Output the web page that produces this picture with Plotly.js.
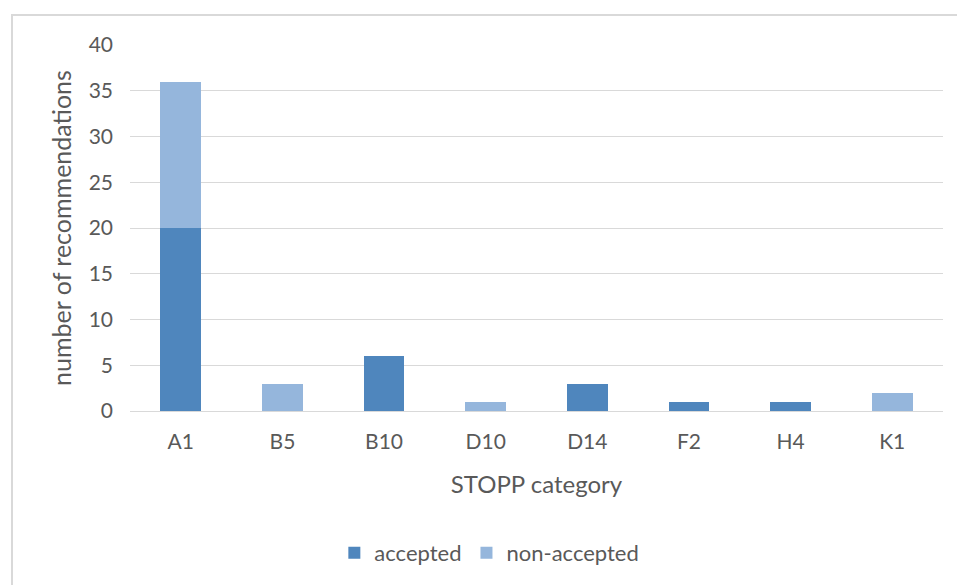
<!DOCTYPE html>
<html>
<head>
<meta charset="utf-8">
<script src="https://cdn.plot.ly/plotly-3.0.1.min.js"></script>
<style>
html,body{margin:0;padding:0;background:#fff;overflow:hidden;}
#frame{position:absolute;left:11px;top:14px;width:1000px;height:700px;border:2px solid #d9d9d9;pointer-events:none;}
#chart{width:957px;height:585px;}
</style>
</head>
<body>
<div id="chart"></div>
<div id="frame"></div>
<script>
const categories = ["A1","B5","B10","D10","D14","F2","H4","K1"];
const accepted = [20,0,6,0,3,1,1,0];
const nonAccepted = [16,3,0,1,0,0,0,2];
const yTicks = [0,5,10,15,20,25,30,35,40];

const font = "Lato, 'Open Sans', sans-serif";
const data = [
  {type:'bar', name:'accepted', x:categories, y:accepted, marker:{color:'#4f86bd'}},
  {type:'bar', name:'non-accepted', x:categories, y:nonAccepted, marker:{color:'#95b6dc'}}
];
const layout = {
  width:957, height:585,
  barmode:'stack', bargap:0.6,
  margin:{l:130, r:14, t:45, b:173},
  paper_bgcolor:'#fff', plot_bgcolor:'#fff',
  font:{family:font, color:'#595959', size:20},
  showlegend:true,
  legend:{orientation:'h', x:0.442, xanchor:'center', y:-0.384, yanchor:'middle', font:{size:22, color:'#595959'}, traceorder:'normal', itemwidth:30},
  xaxis:{type:'category', tickfont:{size:21, color:'#595959'}, ticks:'', showgrid:false, showline:false, ticklabelstandoff:16,
    title:{text:'STOPP category', font:{size:24, color:'#595959'}, standoff:24}},
  yaxis:{range:[0,40], tickvals:yTicks, ticks:'', gridcolor:'#d9d9d9', gridwidth:1, zeroline:true, zerolinecolor:'#d9d9d9', zerolinewidth:1,
    tickfont:{size:21, color:'#595959'}, ticklabelstandoff:16,
    title:{text:'number of recommendations', font:{size:25, color:'#595959'}, standoff:9}}
};
Plotly.newPlot('chart', data, layout, {displayModeBar:false, staticPlot:true});
</script>
</body>
</html>
